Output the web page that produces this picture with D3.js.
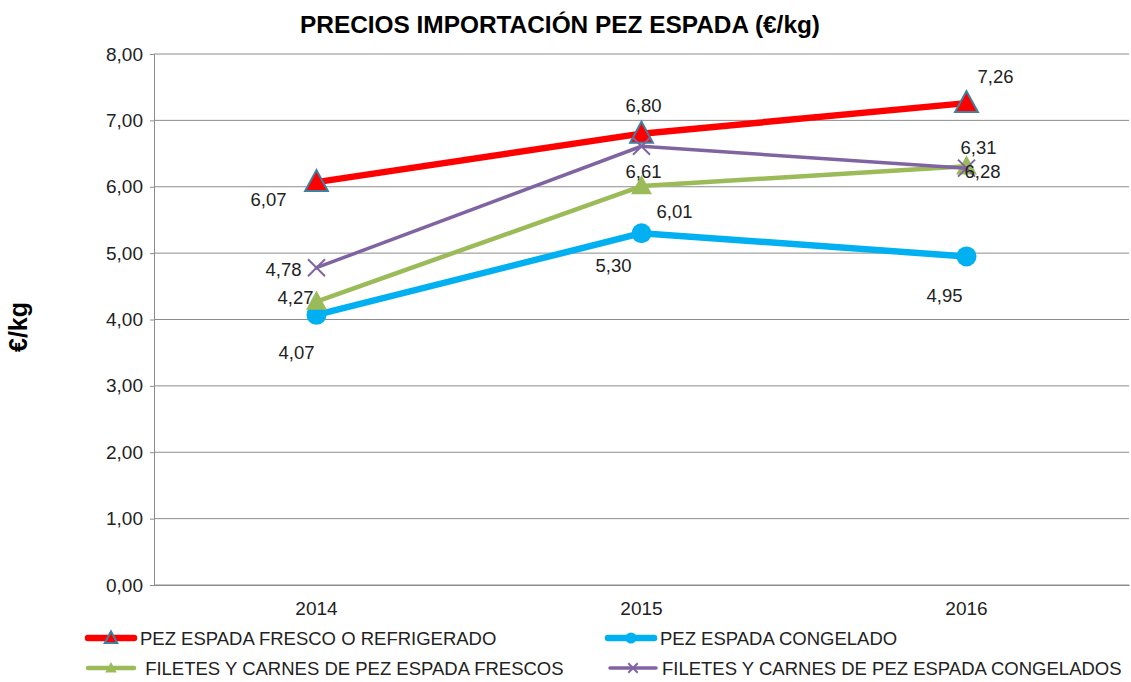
<!DOCTYPE html>
<html><head><meta charset="utf-8">
<script src="https://cdn.jsdelivr.net/npm/d3@7"></script>
<style>
body{margin:0;background:#fff;}
text{font-family:"Liberation Sans",Arial,sans-serif;}
</style></head><body>
<svg id="c" width="1131" height="682"></svg>
<script>
const categories = ["2014","2015","2016"];
const seriesNames = ["PEZ ESPADA FRESCO O REFRIGERADO","PEZ ESPADA CONGELADO"," FILETES Y CARNES DE PEZ ESPADA FRESCOS","FILETES Y CARNES DE PEZ ESPADA CONGELADOS"];
const fresco = [6.07, 6.80, 7.26];
const congelado = [4.07, 5.30, 4.95];
const filetesFrescos = [4.27, 6.01, 6.31];
const filetesCongelados = [4.78, 6.61, 6.28];
const yTicks = [0,1,2,3,4,5,6,7,8];

const seriesValues = [fresco, congelado, filetesFrescos, filetesCongelados];
const styles = [
  {color:"#FF0000", width:6.5, marker:"tri", stroke:"#3F7F9F"},
  {color:"#00B0F0", width:6.5, marker:"circle"},
  {color:"#9BBB59", width:4.5, marker:"tri2"},
  {color:"#8064A2", width:3.5, marker:"x"}
];
// label offsets (dx, dy) relative to point, per series per category
const labelOffsets = [
  [[-48,24],[2,-22],[29,-20]],
  [[-20,44],[-28,39],[-22,46]],
  [[-21,2],[33,32],[12,-12]],
  [[-33,8],[2,32],[16,10]]
];

const svg = d3.select("#c");
const L=154, R=1129, T=54, B=585;
const x = d3.scaleBand().domain(categories).range([L,R]);
const y = d3.scaleLinear().domain([0,8]).range([B,T]);
const fmt = v => d3.format(".2f")(v).replace(".",",");

// gridlines
svg.append("g").selectAll("line").data(yTicks).join("line")
  .attr("x1",L).attr("x2",R).attr("y1",d=>y(d)).attr("y2",d=>y(d))
  .attr("stroke","#8c8c8c").attr("stroke-width",1);
// y axis
const ya = svg.append("g").attr("transform",`translate(${L},0)`)
  .call(d3.axisLeft(y).tickValues(yTicks).tickFormat(fmt).tickSize(4).tickPadding(7));
ya.select(".domain").attr("stroke","#8c8c8c");
ya.selectAll(".tick line").attr("stroke","#8c8c8c");
ya.selectAll("text").attr("font-size",19).attr("fill","#222").attr("font-family","Liberation Sans, Arial");
// x axis
const xa = svg.append("g").attr("transform",`translate(0,${B})`)
  .call(d3.axisBottom(x).tickSize(0).tickPadding(17));
xa.select(".domain").attr("stroke","#8c8c8c");
xa.selectAll("text").attr("font-size",19).attr("fill","#222").attr("font-family","Liberation Sans, Arial");

const cx = c => x(c) + x.bandwidth()/2;
const line = d3.line().x((d,i)=>cx(categories[i])).y(d=>y(d));

function drawMarker(g, st, px, py, scale){
  scale = scale||1;
  if(st.marker==="tri"){
    const s=12*scale;
    g.append("path").attr("d",`M${px},${py-s}L${px+s*0.95},${py+s*0.75}L${px-s*0.95},${py+s*0.75}Z`)
      .attr("fill",st.color).attr("stroke",st.stroke).attr("stroke-width",2);
  } else if(st.marker==="tri2"){
    const s=11*scale;
    g.append("path").attr("d",`M${px},${py-s}L${px+s*0.95},${py+s*0.75}L${px-s*0.95},${py+s*0.75}Z`)
      .attr("fill",st.color);
  } else if(st.marker==="circle"){
    g.append("circle").attr("cx",px).attr("cy",py).attr("r",10*scale).attr("fill",st.color);
  } else {
    const s=8.5*scale;
    g.append("path").attr("d",`M${px-s},${py-s}L${px+s},${py+s}M${px-s},${py+s}L${px+s},${py-s}`)
      .attr("stroke",st.color).attr("stroke-width",2);
  }
}

seriesValues.forEach((vals,si)=>{
  const st=styles[si];
  const g=svg.append("g");
  g.append("path").attr("d",line(vals)).attr("fill","none").attr("stroke",st.color)
    .attr("stroke-width",st.width).attr("stroke-linejoin","round").attr("stroke-linecap","round");
  vals.forEach((v,i)=>drawMarker(g,st,cx(categories[i]),y(v)));
});
// data labels
seriesValues.forEach((vals,si)=>{
  vals.forEach((v,i)=>{
    const o=labelOffsets[si][i];
    svg.append("text").attr("x",cx(categories[i])+o[0]).attr("y",y(v)+o[1])
      .attr("text-anchor","middle").attr("font-size",18.5).attr("fill","#222").text(fmt(v));
  });
});

// title
svg.append("text").attr("x",560).attr("y",33).attr("text-anchor","middle")
  .attr("font-size",23).attr("font-weight","bold").attr("fill","#000")
  .attr("textLength",520).attr("lengthAdjust","spacingAndGlyphs")
  .text("PRECIOS IMPORTACIÓN PEZ ESPADA (€/kg)");
// y title
svg.append("text").attr("transform","translate(27,327) rotate(-90)").attr("text-anchor","middle")
  .attr("font-size",25).attr("font-weight","bold").attr("fill","#000").text("€/kg");

// legend
const legPos = [[88,638],[608,638],[88,668],[610,668]];
seriesNames.forEach((n,si)=>{
  const st=styles[si];
  const [lx,ly]=legPos[si];
  const g=svg.append("g");
  g.append("line").attr("x1",lx).attr("x2",lx+46).attr("y1",ly).attr("y2",ly)
    .attr("stroke",st.color).attr("stroke-width",st.width).attr("stroke-linecap","round");
  drawMarker(g,st,lx+23,ly,0.55);
  g.append("text").attr("x",lx+52).attr("y",ly+7).attr("font-size",18.5).attr("fill","#222")
    .attr("xml:space","preserve").style("white-space","pre").text(n);
});
</script></body></html>
